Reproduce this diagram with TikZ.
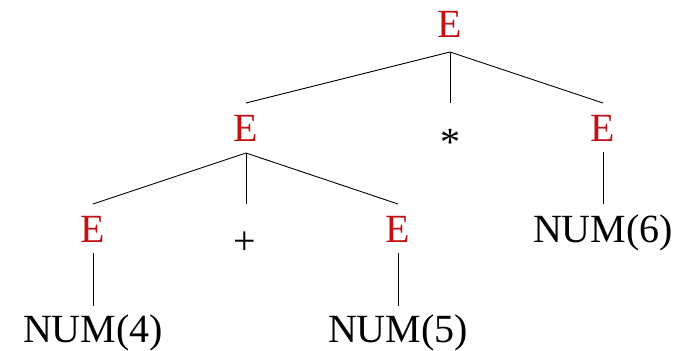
\documentclass[tikz,border=0pt]{standalone}
\usepackage{fontspec}
\setmainfont{Liberation Serif}
\usetikzlibrary{calc}
\definecolor{ered}{RGB}{195,18,22}
\begin{document}
\begin{tikzpicture}[x=1pt,y=1pt,
  sym/.style={font=\fontsize{40}{44}\selectfont, inner sep=0pt, anchor=base},
  nt/.style={sym, text=ered},
  edge/.style={draw=black, line width=0.9pt}]
\useasboundingbox (0,0) rectangle (681,351);
% level 1
\node[nt] (e) at (450,313) {E};
% level 2
\node[nt] (e1) at (246,209) {E};
\node[sym] (star) at (450,195) {*};
\node[nt] (e3) at (603,209) {E};
% level 3
\node[nt] (e11) at (93,108) {E};
\node[sym] (plus) at (245,96) {+};
\node[nt] (e13) at (398,108) {E};
\node[sym] (n6) at (603,108) {NUM(6)};
% level 4
\node[sym] (n4) at (93,8) {NUM(4)};
\node[sym] (n5) at (398,8) {NUM(5)};
% connectors
\draw[edge] ([yshift=39pt]e1.base) -- ([yshift=-14pt]e.base) -- ([yshift=39pt]e3.base);
\draw[edge] ([yshift=-14pt]e.base) -- ([yshift=39pt]e.base |- e1.base);
\draw[edge] ([yshift=39pt]e11.base) -- ([yshift=-11pt]e1.base) -- ([yshift=39pt]e13.base);
\draw[edge] ([yshift=-11pt]e1.base) -- ([yshift=39pt]e1.base |- e11.base);
\draw[edge] ([yshift=-10pt]e3.base) -- ([yshift=39pt]n6.base);
\draw[edge] ([yshift=-10pt]e11.base) -- ([yshift=37pt]n4.base);
\draw[edge] ([yshift=-10pt]e13.base) -- ([yshift=37pt]n5.base);
\end{tikzpicture}
\end{document}
